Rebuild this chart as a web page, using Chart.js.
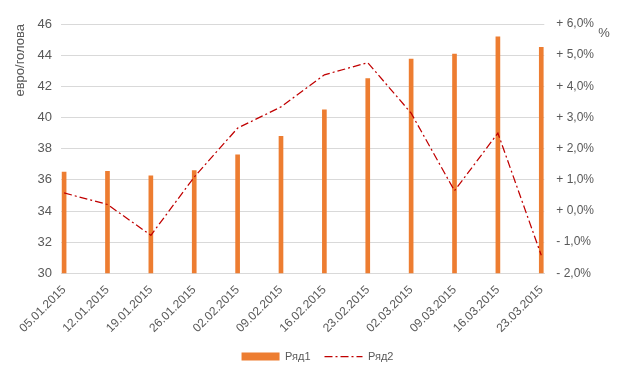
<!DOCTYPE html>
<html>
<head>
<meta charset="utf-8">
<script src="https://cdn.jsdelivr.net/npm/chart.js@4"></script>
<style>
  html, body { margin: 0; padding: 0; background: #fff; }
  #wrap { width: 621px; height: 385px; }
</style>
</head>
<body>
<div id="wrap"><canvas id="chartPrice"></canvas></div>
<script>
// data
let dates = ['05.01.2015', '12.01.2015', '19.01.2015', '26.01.2015', '02.02.2015', '09.02.2015',
             '16.02.2015', '23.02.2015', '02.03.2015', '09.03.2015', '16.03.2015', '23.03.2015'];
let row1 = [36.5, 36.55, 36.25, 36.6, 37.6, 38.8, 40.5, 42.5, 43.75, 44.07, 45.17, 44.5];
let row2 = [0.58, 0.21, -0.78, 1.09, 2.66, 3.34, 4.37, 4.76, 3.14, 0.65, 2.5, -1.42];
let leftTicks = [30, 46, 2];
let rightTicks = [-2, 6, 1];

let textColor = '#595959';
let gridColor = '#d9d9d9';
let font = 'Liberation Sans';

// "%" title over the right axis, legend nudged right like the original
let extras = {
    id: 'extras',
    afterLayout(chart) {
        chart.legend.left += 12;
        chart.legend.right += 12;
    },
    afterDraw(chart) {
        let ctx = chart.ctx;
        ctx.save();
        ctx.fillStyle = textColor;
        ctx.font = '13px "' + font + '"';
        ctx.textAlign = 'center';
        ctx.textBaseline = 'middle';
        ctx.fillText('%', 604, 33);
        ctx.restore();
    }
};

let contextPrice = document.querySelector('#chartPrice').getContext('2d');

let config = {
    type: 'bar',
    data: {
        labels: dates,
        datasets: [{
            type: 'line',
            label: 'Ряд2',
            data: row2,
            yAxisID: 'y1',
            borderColor: '#C00000',
            backgroundColor: '#C00000',
            borderWidth: 1.25,
            borderDash: [8, 3, 2, 3],
            pointRadius: 0,
            tension: 0,
            order: 1
        }, {
            label: 'Ряд1',
            data: row1,
            yAxisID: 'y',
            backgroundColor: '#ED7D31',
            barThickness: 4,
            clip: { left: 6, right: 6, top: 0, bottom: 0 },
            order: 2
        }]
    },
    options: {
        responsive: true,
        maintainAspectRatio: false,
        animation: false,
        layout: {
            padding: { left: 5, right: 15, top: 24, bottom: 13 }
        },
        plugins: {
            legend: {
                position: 'bottom',
                reverse: true,
                labels: {
                    color: textColor,
                    font: { family: font, size: 11 },
                    usePointStyle: true,
                    pointStyleWidth: 38,
                    boxHeight: 8,
                    padding: 14,
                    generateLabels(chart) {
                        let items = Chart.defaults.plugins.legend.labels.generateLabels(chart);
                        items.forEach(item => {
                            if (item.datasetIndex === 1) {
                                item.pointStyle = 'rect';
                                item.lineWidth = 0;
                            } else {
                                item.pointStyle = 'line';
                                item.lineDash = [8, 3, 2, 3];
                                item.lineWidth = 1.25;
                            }
                        });
                        return items;
                    }
                }
            },
            tooltip: { enabled: false }
        },
        scales: {
            x: {
                offset: false,
                grid: { display: false },
                border: { color: gridColor },
                ticks: {
                    color: textColor,
                    font: { family: font, size: 12 },
                    maxRotation: 45,
                    minRotation: 45,
                    padding: 1.5,
                    autoSkip: false
                },
                // small inset of the first and last category, like the original
                afterUpdate(scale) {
                    scale._startValue = -0.07;
                    scale._valueRange = dates.length - 1 + 0.14;
                }
            },
            y: {
                position: 'left',
                min: leftTicks[0],
                max: leftTicks[1],
                ticks: {
                    stepSize: leftTicks[2],
                    color: textColor,
                    font: { family: font, size: 13 },
                    padding: 9
                },
                grid: { color: gridColor, drawTicks: false },
                border: { display: false },
                title: {
                    display: true,
                    text: 'евро/голова',
                    align: 'end',
                    color: textColor,
                    font: { family: font, size: 13 },
                    padding: { top: 8, bottom: 0 }
                }
            },
            y1: {
                position: 'right',
                min: rightTicks[0],
                max: rightTicks[1],
                ticks: {
                    stepSize: rightTicks[2],
                    color: textColor,
                    font: { family: font, size: 12 },
                    padding: 12,
                    callback: v => (v < 0 ? '- ' : '+ ') + Math.abs(v).toFixed(1).replace('.', ',') + '%'
                },
                grid: { display: false, drawTicks: false },
                border: { display: false }
            }
        }
    },
    plugins: [extras]
};

let chartPrice = new Chart(contextPrice, config);
</script>
</body>
</html>
